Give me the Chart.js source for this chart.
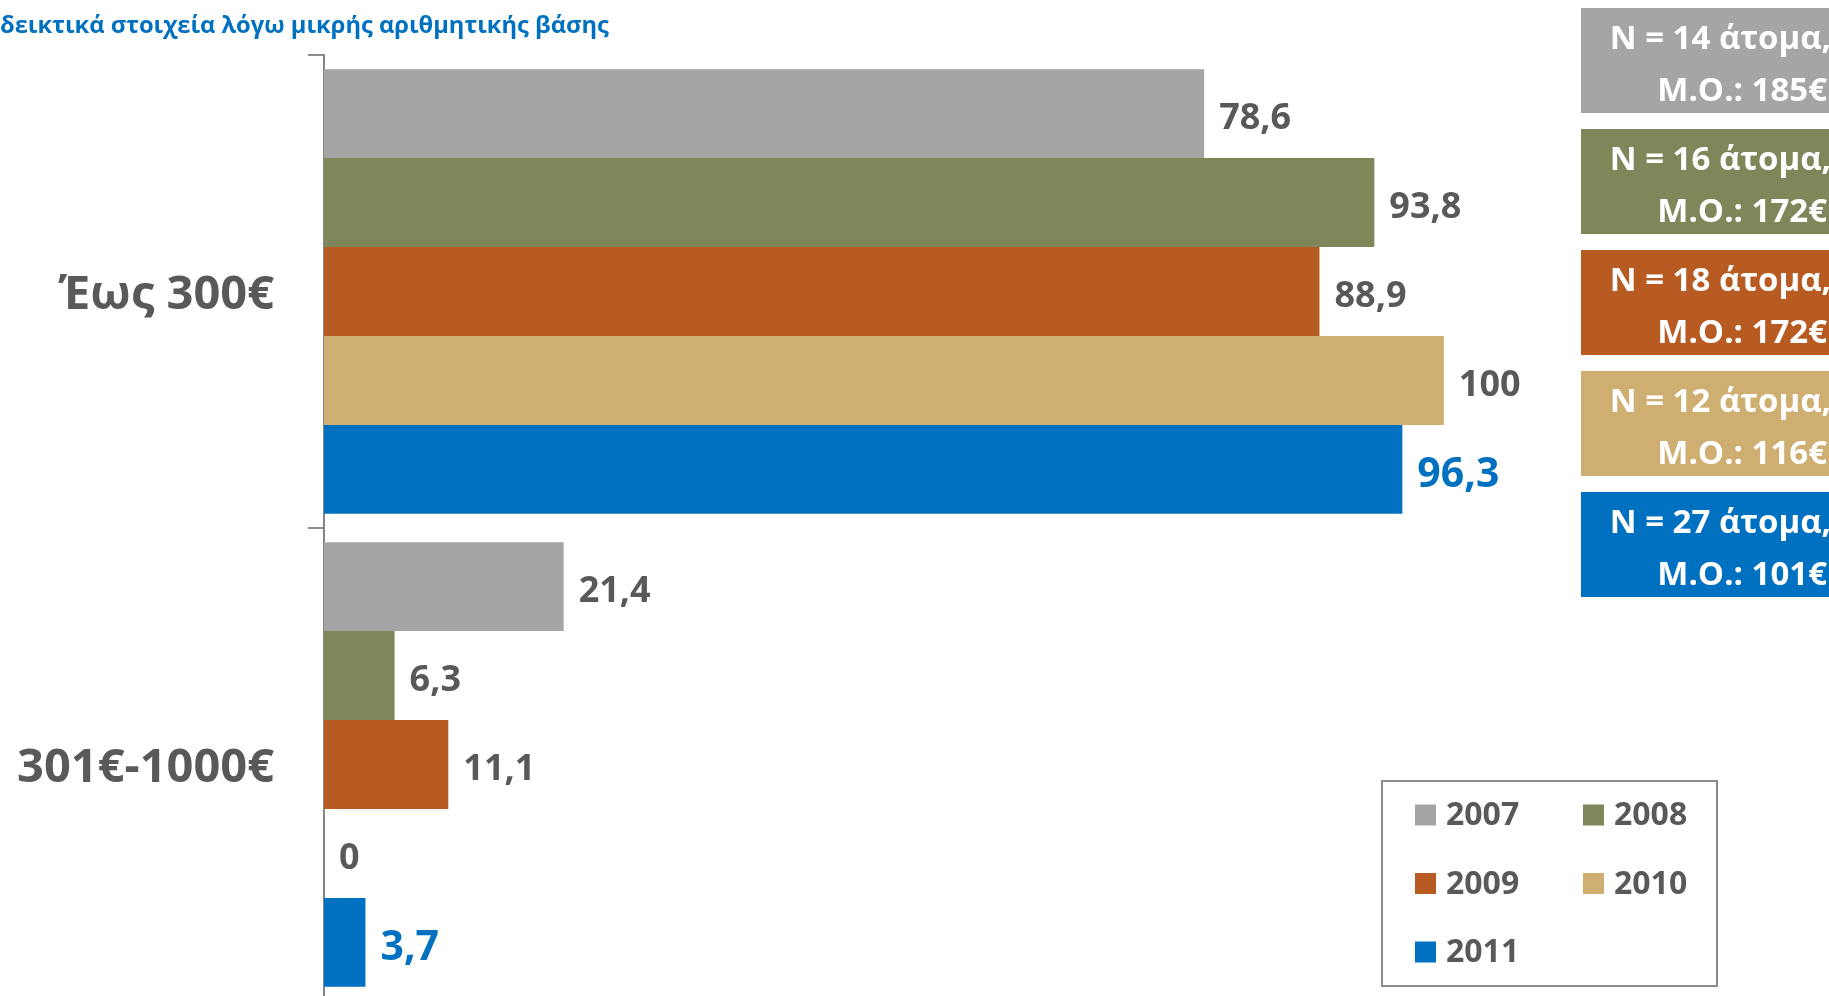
<!DOCTYPE html>
<html>
<head>
<meta charset="utf-8">
<script src="https://cdn.jsdelivr.net/npm/chart.js@4/dist/chart.umd.min.js"></script>
<style>
  html, body { margin: 0; padding: 0; background: #fff; overflow: hidden; }
  #wrap { width: 1829px; height: 1002px; }
</style>
</head>
<body>
<div id="wrap"><canvas id="incomeChart" width="1829" height="1002"></canvas></div>
<script>
const categories = ['Έως 300€', '301€-1000€'];
const years = ['2007', '2008', '2009', '2010', '2011'];
const values2007 = [78.6, 21.4];
const values2008 = [93.8, 6.3];
const values2009 = [88.9, 11.1];
const values2010 = [100, 0];
const values2011 = [96.3, 3.7];
const sampleSizes = [14, 16, 18, 12, 27];
const meanCosts = [185, 172, 172, 116, 101];
const titleText = 'δεικτικά στοιχεία λόγω μικρής αριθμητικής βάσης';

const colors = ['#A5A5A5', '#7F865A', '#B85B23', '#CFAE72', '#0070C0'];
const FONT = '"Open Sans", "Noto Sans", sans-serif';
const GREY_TEXT = '#595959';

const fmt = v => String(v).replace('.', ',');

// value labels at the end of each bar
const valueLabels = {
    id: 'valueLabels',
    afterDatasetsDraw(chart) {
        const ctx = chart.ctx;
        ctx.save();
        ctx.textBaseline = 'middle';
        ctx.textAlign = 'left';
        chart.data.datasets.forEach((ds, i) => {
            const meta = chart.getDatasetMeta(i);
            const last = i === chart.data.datasets.length - 1;
            ctx.fillStyle = last ? '#0070C0' : GREY_TEXT;
            ctx.font = 'bold ' + (last ? 41 : 36) + 'px ' + FONT;
            meta.data.forEach((bar, j) => {
                ctx.fillText(fmt(ds.data[j]), bar.x + 15, bar.y + (last ? 6 : 5));
            });
        });
        ctx.restore();
    }
};

// title, sample-size boxes and legend
const extras = {
    id: 'extras',
    afterDraw(chart) {
        const ctx = chart.ctx;
        ctx.save();

        ctx.fillStyle = '#0070C0';
        ctx.font = 'bold 23.7px ' + FONT;
        ctx.textAlign = 'left';
        ctx.textBaseline = 'alphabetic';
        ctx.fillText(titleText, 0, 33);

        // N / mean boxes
        chart.data.datasets.forEach((ds, i) => {
            const top = 8 + i * 121;
            ctx.fillStyle = ds.backgroundColor;
            ctx.fillRect(1581, top, 260, 105);
            ctx.fillStyle = '#fff';
            ctx.font = 'bold 33px ' + FONT;
            ctx.textAlign = 'right';
            ctx.textBaseline = 'middle';
            ctx.fillText('N = ' + sampleSizes[i] + ' άτομα,', 1831, top + 32);
            ctx.fillText('Μ.Ο.: ' + meanCosts[i] + '€', 1827, top + 84);
        });

        // legend
        ctx.strokeStyle = '#8c8c8c';
        ctx.lineWidth = 2;
        ctx.strokeRect(1382, 781, 335, 205);
        ctx.font = 'bold 32px ' + FONT;
        ctx.textAlign = 'left';
        ctx.textBaseline = 'middle';
        chart.data.datasets.forEach((ds, i) => {
            const col = i % 2, row = Math.floor(i / 2);
            const sx = col ? 1583 : 1415;
            const cy = 815 + row * 68.5;
            ctx.fillStyle = ds.backgroundColor;
            ctx.fillRect(sx, cy - 10.5, 21, 21);
            ctx.fillStyle = GREY_TEXT;
            ctx.fillText(ds.label, sx + 31, cy + 1);
        });
        ctx.restore();
    }
};

const seriesValues = [values2007, values2008, values2009, values2010, values2011];

const ctx1 = document.getElementById('incomeChart').getContext('2d');
const incomeChart = new Chart(ctx1, {
    type: 'bar',
    data: {
        labels: categories,
        datasets: years.map((y, i) => ({
            label: y,
            data: seriesValues[i],
            backgroundColor: colors[i],
            borderWidth: 0,
            categoryPercentage: 0.94,
            barPercentage: 1
        }))
    },
    options: {
        indexAxis: 'y',
        responsive: false,
        animation: false,
        layout: { padding: { top: 55, right: 0, bottom: 1, left: 0 } },
        plugins: {
            legend: { display: false },
            tooltip: { enabled: false }
        },
        scales: {
            x: {
                display: false,
                min: 0,
                max: 134.4
            },
            y: {
                afterFit(scale) {
                    scale.width = 324;
                    scale.paddingTop = 0;
                    scale.paddingBottom = 0;
                },
                grid: {
                    display: true,
                    drawOnChartArea: false,
                    drawTicks: true,
                    tickLength: 16,
                    color: '#8c8c8c',
                    lineWidth: 2
                },
                border: { display: true, color: '#868686', width: 2 },
                ticks: {
                    color: GREY_TEXT,
                    padding: 34,
                    labelOffset: 4,
                    font: { family: FONT, size: 47, weight: 'bold' }
                }
            }
        }
    },
    plugins: [valueLabels, extras]
});
</script>
</body>
</html>
